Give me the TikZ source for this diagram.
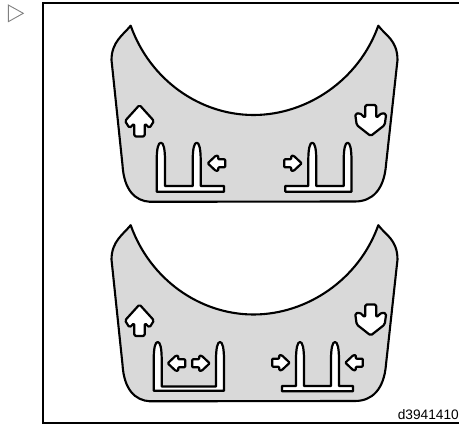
\documentclass[tikz,border=0pt]{standalone}
\usepackage{fontspec}
\setmainfont{Liberation Sans}
\definecolor{panelgrey}{gray}{0.85}
\definecolor{markgrey}{gray}{0.5}
\tikzset{
  panel/.style={draw=black,fill=panelgrey,line width=2.1pt,line join=round},
  sign/.style={draw=black,fill=white,line width=2.2pt,line join=round,rounded corners=0.9pt},
  bigsign/.style={sign,rounded corners=1.5pt},
  forkline/.style={draw=black,fill=white,line width=2.2pt,line join=round},
  frameline/.style={draw=black,line width=2pt},
  marker/.style={draw=markgrey,line width=0.9pt,line join=miter},
  idlabel/.style={font=\fontsize{13.7pt}{15pt}\selectfont,anchor=base east,inner sep=0pt}
}
% plate outline, shifted down by #1
\newcommand{\plate}[1]{%
  \path[panel,yshift=#1pt]
    (130.7,25.7) .. controls (150,80) and (200,115) .. (253.5,115)
    .. controls (307,115) and (359,80) .. (378.3,25.7)
    .. controls (385,35) and (397.5,40) .. (397.5,60)
    -- (386,165) .. controls (384,190) and (372,201.5) .. (355,201.5)
    -- (150,201.8) .. controls (135,201) and (124,190) .. (122.5,165)
    -- (111.5,60) .. controls (111.5,42) and (123,35) .. (130.7,25.7) -- cycle;}
% big arrows: centre x, tip y
\newcommand{\bigup}[2]{%
  \path[bigsign] (#1,#2) -- ({#1+14.5},{#2+16}) -- ({#1+10},{#2+23}) -- ({#1+5.2},{#2+18.5}) -- ({#1+5.2},{#2+31.5})
   -- ({#1-5.2},{#2+31.5}) -- ({#1-5.2},{#2+18.5}) -- ({#1-10},{#2+23}) -- ({#1-14.5},{#2+16}) -- cycle;}
\newcommand{\bigdown}[2]{%
  \path[bigsign] (#1,#2) -- ({#1+14},{#2-11}) -- ({#1+15.5},{#2-22}) -- ({#1+11},{#2-23}) -- ({#1+5.5},{#2-18}) -- ({#1+5.5},{#2-31})
   -- ({#1-5.5},{#2-31}) -- ({#1-5.5},{#2-18}) -- ({#1-11},{#2-23}) -- ({#1-15.5},{#2-22}) -- ({#1-14},{#2-11}) -- cycle;}
% small arrows: tip x, centre y
\newcommand{\smallleft}[2]{%
  \path[sign] (#1,#2) -- ({#1+8},{#2-7.5}) -- ({#1+10.5},{#2-7.5}) -- ({#1+10.5},{#2-4}) -- ({#1+17.5},{#2-4}) -- ({#1+17.5},{#2+4})
   -- ({#1+10.5},{#2+4}) -- ({#1+10.5},{#2+7.5}) -- ({#1+8},{#2+7.5}) -- cycle;}
\newcommand{\smallright}[2]{%
  \path[sign] (#1,#2) -- ({#1-8},{#2-7.5}) -- ({#1-10.5},{#2-7.5}) -- ({#1-10.5},{#2-4}) -- ({#1-17.5},{#2-4}) -- ({#1-17.5},{#2+4})
   -- ({#1-10.5},{#2+4}) -- ({#1-10.5},{#2+7.5}) -- ({#1-8},{#2+7.5}) -- cycle;}
% prong path piece, travelling right to left: right x, left x, top y, base y
\newcommand{\prong}[4]{-- (#1,#4) -- (#1,{#3+18}) .. controls (#1,{#3+6}) and ({#1-1.5},#3) .. ({(#1+#2)/2},#3)
   .. controls ({#2+1.5},#3) and (#2,{#3+6}) .. (#2,{#3+18}) -- (#2,#4)}
\begin{document}
\begin{tikzpicture}[x=1pt,y=-1pt]
\useasboundingbox (0,0) rectangle (459,425);
\path[marker] (8.3,5) -- (23.3,13.3) -- (8.3,21.7) -- cycle;
\path[frameline] (459,3) -- (43,3) -- (43,423.5) -- (459,423.5);
\plate{0}
\plate{-199.5}
% upper panel
\bigup{139.5}{105}
\bigdown{370.7}{136}
\path[forkline] (224,191.7) -- (156.7,191.7) -- (156.7,160.7)
  .. controls (156.7,148.7) and (158.2,142.7) .. (160.9,142.7)
  .. controls (163.5,142.7) and (165,148.7) .. (165,160.7) -- (165,186)
  -- (192.7,186) -- (192.7,160.7) .. controls (192.7,148.7) and (194.2,142.7) .. (196.7,142.7)
  .. controls (199.2,142.7) and (200.7,148.7) .. (200.7,160.7) -- (200.7,186) -- (224,186) -- cycle;
\path[forkline] (285.3,191.7) -- (351.5,191.7)
  \prong{351.5}{343.7}{142.7}{186}
  \prong{316.3}{308.3}{142.7}{186} -- (285.3,186) -- cycle;
\smallleft{207.7}{163.3}
\smallright{301.7}{163.3}
% lower panel
\bigup{139.5}{304.5}
\bigdown{370.7}{335.5}
\path[forkline] (153.7,390.7) -- (224,390.7)
  \prong{224}{216}{342}{386.5} -- (161.7,386.5)
  -- (161.7,360) .. controls (161.7,348) and (160.2,342) .. (157.7,342)
  .. controls (155.2,342) and (153.7,348) .. (153.7,360) -- cycle;
\path[forkline] (282,391.3) -- (353,391.3) -- (353,386)
  \prong{339}{331}{342}{386}
  \prong{304}{296}{342}{386} -- (282,386) -- cycle;
\smallleft{167.7}{363.3}
\smallright{209.7}{363.3}
\smallright{289.7}{362.7}
\smallleft{345.3}{362.7}
\node[idlabel] (partid) at (459,419.5) {d3941410};
\end{tikzpicture}
\end{document}
